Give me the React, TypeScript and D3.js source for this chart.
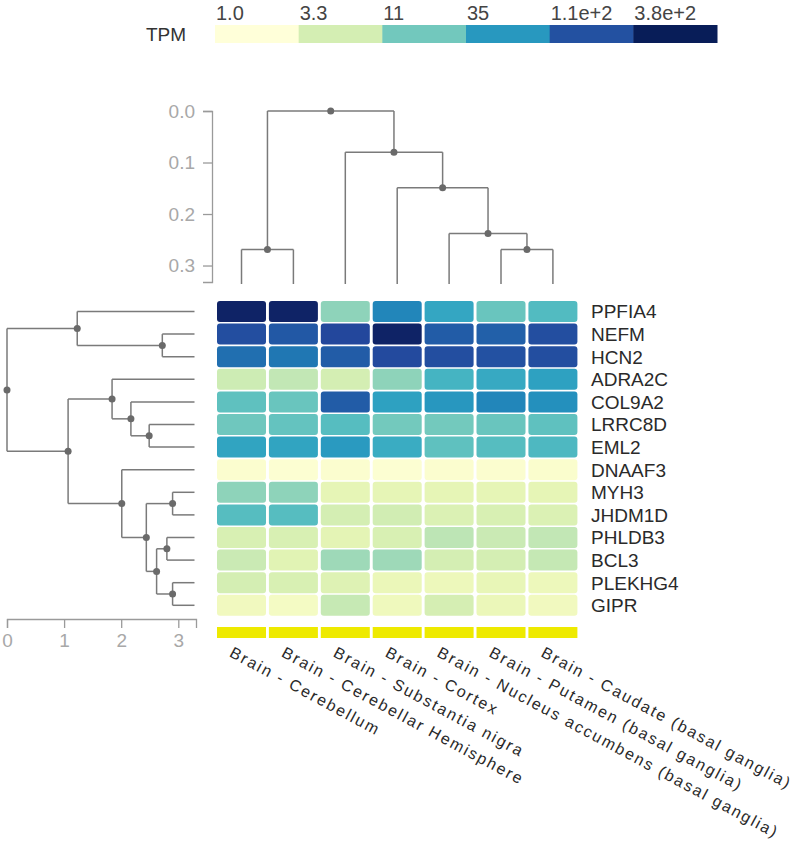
import React, { useEffect, useRef } from "react";
import * as d3 from "d3";

const tissues = [
  "Brain - Cerebellum",
  "Brain - Cerebellar Hemisphere",
  "Brain - Substantia nigra",
  "Brain - Cortex",
  "Brain - Nucleus accumbens (basal ganglia)",
  "Brain - Putamen (basal ganglia)",
  "Brain - Caudate (basal ganglia)",
];
const genes = [
  "PPFIA4", "NEFM", "HCN2", "ADRA2C", "COL9A2", "LRRC8D", "EML2",
  "DNAAF3", "MYH3", "JHDM1D", "PHLDB3", "BCL3", "PLEKHG4", "GIPR",
];
// TPM values, rows = genes, columns = tissues
const tpm = [
  [318, 318, 8.0, 47.5, 26.3, 12.1, 16.3],
  [116, 97, 130, 318, 91, 86, 116],
  [67.7, 60.2, 91, 123, 116, 109, 116],
  [3.7, 4.4, 3.3, 8.0, 19.5, 24.7, 29.6],
  [13.7, 12.1, 91, 29.6, 35.4, 47.5, 39.8],
  [11.4, 12.9, 15.4, 10.8, 10.8, 12.1, 13.7],
  [27.9, 27.9, 33.3, 23.3, 13.7, 15.4, 17.3],
  [1.2, 1.15, 1.2, 1.15, 1.2, 1.2, 1.25],
  [8.0, 8.0, 2.3, 2.3, 2.3, 2.3, 2.3],
  [15.4, 15.4, 3.3, 3.5, 2.9, 3.1, 2.9],
  [3.1, 3.1, 2.44, 3.1, 4.7, 3.9, 4.4],
  [3.9, 2.6, 6.7, 6.7, 3.3, 3.3, 4.2],
  [3.3, 3.1, 2.75, 2.04, 1.92, 2.17, 1.92],
  [1.71, 1.52, 4.16, 1.81, 3.28, 2.04, 1.71],
];
const legendTicks = [1.0, 3.3, 11, 35, 110, 380];
const legendLabels = ["1.0", "3.3", "11", "35", "1.1e+2", "3.8e+2"];
const topAxisTicks = [0, 0.1, 0.2, 0.3];
const leftAxisTicks = [0, 1, 2, 3];

// dendrograms: h = merge height, c = children (number = leaf index)
const colTree = {
  h: 0,
  c: [
    { h: 0.269, c: [0, 1] },
    { h: 0.08, c: [2, { h: 0.149, c: [3, { h: 0.238, c: [4, { h: 0.269, c: [5, 6] }] }] }] },
  ],
};
const rowTree = {
  h: 0,
  c: [
    { h: 1.23, c: [0, { h: 2.72, c: [1, 2] }] },
    {
      h: 1.07,
      c: [
        { h: 1.84, c: [3, { h: 2.17, c: [4, { h: 2.49, c: [5, 6] }] }] },
        {
          h: 2.01,
          c: [
            7,
            {
              h: 2.44,
              c: [
                { h: 2.9, c: [8, 9] },
                { h: 2.62, c: [{ h: 2.8, c: [10, 11] }, { h: 2.9, c: [12, 13] }] },
              ],
            },
          ],
        },
      ],
    },
  ],
};

const FONT = "'Liberation Sans', Arial, Helvetica, sans-serif";
const LINE = "#7a7a7a";

type Dot = { a: number; d: number };

function layoutTree(tree: any, leafPos: (i: number) => number, depthScale: (h: number) => number, leafDepth: number) {
  const segs: { a1: number; d1: number; a2: number; d2: number }[] = [];
  const dots: Dot[] = [];
  function rec(node: any): { a: number; d: number } {
    if (typeof node === "number") return { a: leafPos(node), d: leafDepth };
    const kids = node.c.map(rec);
    const d = depthScale(node.h);
    const a = d3.mean(kids, (k: any) => k.a) as number;
    const amin = d3.min(kids, (k: any) => k.a) as number;
    const amax = d3.max(kids, (k: any) => k.a) as number;
    segs.push({ a1: amin, d1: d, a2: amax, d2: d });
    kids.forEach((k: any) => segs.push({ a1: k.a, d1: d, a2: k.a, d2: k.d }));
    dots.push({ a, d });
    return { a, d };
  }
  rec(tree);
  return { segs, dots };
}

export default function App() {
  const topAxisRef = useRef<SVGGElement>(null);
  const leftAxisRef = useRef<SVGGElement>(null);

  const x = d3.scaleBand<string>().domain(tissues).range([214.1, 214.1 + 51.9 * 7.056]).padding(0.056);
  const y = d3.scaleBand<string>().domain(genes).range([299.4, 299.4 + 22.6 * 14.07]).padding(0.07);
  const tMax = Math.log(380);
  const color = (v: number) => d3.interpolateYlGnBu(Math.max(0, Math.min(1, Math.log(v) / tMax)));

  const topScale = d3.scaleLinear().domain([0, 0.332]).range([111, 282]);
  const leftScale = d3.scaleLinear().domain([0, 3.31]).range([7, 196]);

  const legendX = d3.scaleBand<number>().domain(d3.range(legendTicks.length)).range([215, 717]).padding(0);

  const colDen = layoutTree(colTree, (i) => (x(tissues[i]) as number) + x.bandwidth() / 2, topScale, 284);
  const rowDen = layoutTree(rowTree, (i) => (y(genes[i]) as number) + y.bandwidth() / 2, leftScale, 194.5);

  useEffect(() => {
    const ta = d3.select(topAxisRef.current!);
    ta.call(
      d3.axisLeft(topScale).tickValues(topAxisTicks).tickFormat(d3.format(".1f")).tickSize(9).tickSizeOuter(9).tickPadding(8) as any
    );
    const la = d3.select(leftAxisRef.current!);
    la.call(
      d3.axisBottom(leftScale).tickValues(leftAxisTicks).tickFormat(d3.format("d")).tickSize(9).tickSizeOuter(9).tickPadding(6) as any
    );
    [ta, la].forEach((g) => {
      g.select(".domain").attr("stroke", "#9a9a9a").attr("stroke-width", 1.3);
      g.selectAll(".tick line").attr("stroke", "#9a9a9a").attr("stroke-width", 1.3);
      g.selectAll(".tick text").attr("fill", "#a8a8a8").attr("font-size", 19).attr("font-family", FONT);
    });
  }, []);

  return (
    <svg width={797} height={845} style={{ position: "absolute", left: 0, top: 0, background: "#fff" }} fontFamily={FONT}>
      {/* legend */}
      <text x={146} y={34} fontSize={19} fill="#333" dominantBaseline="central">
        TPM
      </text>
      {legendTicks.map((v, i) => (
        <g key={i}>
          <rect x={legendX(i)} y={25} width={legendX.bandwidth() + 0.5} height={18} fill={color(v)} />
          <text x={(legendX(i) as number) + 1} y={20} fontSize={20} fill="#444">
            {legendLabels[i]}
          </text>
        </g>
      ))}

      {/* top dendrogram */}
      <g ref={topAxisRef} transform="translate(212,0)" />
      {colDen.segs.map((s, i) => (
        <line key={i} x1={s.a1} y1={s.d1} x2={s.a2} y2={s.d2} stroke={LINE} strokeWidth={1.5} />
      ))}
      {colDen.dots.map((d, i) => (
        <circle key={i} cx={d.a} cy={d.d} r={3.5} fill="#6a6a6a" />
      ))}

      {/* left dendrogram */}
      <g ref={leftAxisRef} transform="translate(0,619)" />
      {rowDen.segs.map((s, i) => (
        <line key={i} x1={s.d1} y1={s.a1} x2={s.d2} y2={s.a2} stroke={LINE} strokeWidth={1.5} />
      ))}
      {rowDen.dots.map((d, i) => (
        <circle key={i} cx={d.d} cy={d.a} r={3.5} fill="#6a6a6a" />
      ))}

      {/* heatmap */}
      {genes.map((g, r) =>
        tissues.map((t, c) => (
          <rect
            key={g + t}
            x={x(t)}
            y={y(g)}
            width={x.bandwidth()}
            height={y.bandwidth()}
            rx={3}
            fill={color(tpm[r][c])}
          />
        ))
      )}
      {tissues.map((t) => (
        <rect key={"bar" + t} x={x(t)} y={627} width={x.bandwidth()} height={11} fill="#eeea00" />
      ))}

      {/* gene labels */}
      {genes.map((g) => (
        <text key={"l" + g} x={591} y={(y(g) as number) + y.bandwidth() / 2} dy="0.36em" fontSize={19} fill="#2a2a2a">
          {g}
        </text>
      ))}

      {/* tissue labels */}
      {tissues.map((t) => {
        const cx = (x(t) as number) + x.bandwidth() / 2 - 13;
        return (
          <text
            key={"t" + t}
            transform={`translate(${cx},656) rotate(28.3)`}
            fontSize={16}
            letterSpacing={1.95}
            fill="#2a2a2a"
          >
            {t}
          </text>
        );
      })}
    </svg>
  );
}
